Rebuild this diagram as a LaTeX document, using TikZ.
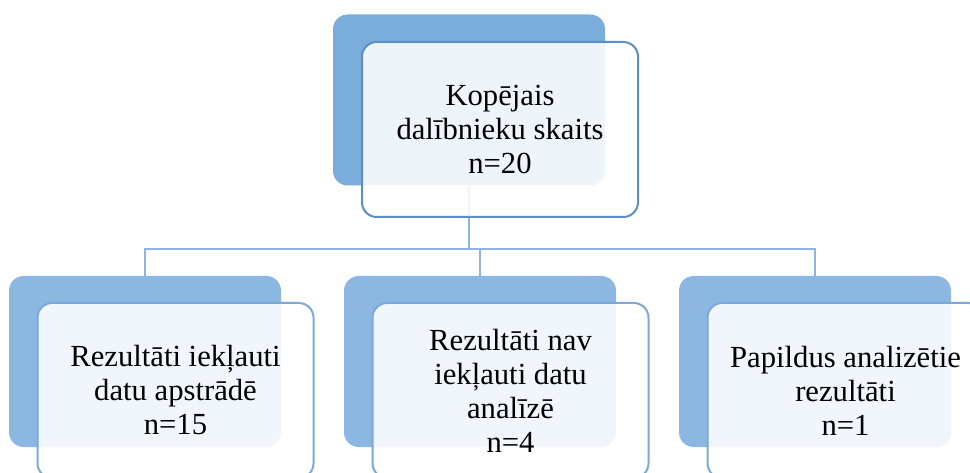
\documentclass[tikz,border=0pt]{standalone}
\usepackage{fontspec}
\setmainfont{Liberation Serif}
\definecolor{topback}{HTML}{7AADDC}
\definecolor{childback}{HTML}{8BB7E1}
\definecolor{topborder}{HTML}{5B8FC7}
\definecolor{childborder}{HTML}{7BA9DA}
\definecolor{connc}{HTML}{8DB4E2}
\tikzset{
  backbox/.style={draw=none, rounded corners=11pt, minimum width=204pt, minimum height=128.25pt, inner sep=0pt},
  frontbox/.style={rounded corners=11pt, minimum width=207pt, minimum height=131.25pt, inner sep=0pt,
     fill=white, fill opacity=0.88, text opacity=1, line width=1.5pt, align=center,
     font=\fontsize{23pt}{25.5pt}\selectfont},
  conn/.style={draw=connc, line width=1.6pt},
}
\begin{document}
\begin{tikzpicture}[x=0.75pt, y=-0.75pt]
\clip (0,0) rectangle (970,473);
\fill[white] (0,0) rectangle (970,473);
\coordinate (bus) at (0,249);
% back boxes
\node[backbox, fill=topback] (tb) at (469,100) {};
\node[backbox, fill=childback] (c1b) at (145,361.5) {};
\node[backbox, fill=childback] (c2b) at (480,361.5) {};
\node[backbox, fill=childback] (c3b) at (815,361.5) {};
% connectors
\draw[conn] (tb.south) -- (tb.south |- bus);
\draw[conn] (c1b.north) -- (c1b.north |- bus) -- (c3b.north |- bus) -- (c3b.north);
\draw[conn] (c2b.north) -- (c2b.north |- bus);
% front boxes
\node[frontbox, draw=topborder] (tf) at (500,129.5) {Kopējais\\dalībnieku skaits\\n=20};
\node[frontbox, draw=childborder] (c1f) at (175.5,390.5) {Rezultāti iekļauti\\datu apstrādē\\n=15};
\node[frontbox, draw=childborder] (c2f) at (510.5,390.5) {Rezultāti nav\\iekļauti datu\\analīzē\\n=4};
\node[frontbox, draw=childborder] (c3f) at (845.5,390.5) {Papildus analizētie\\rezultāti\\n=1};
\end{tikzpicture}
\end{document}
